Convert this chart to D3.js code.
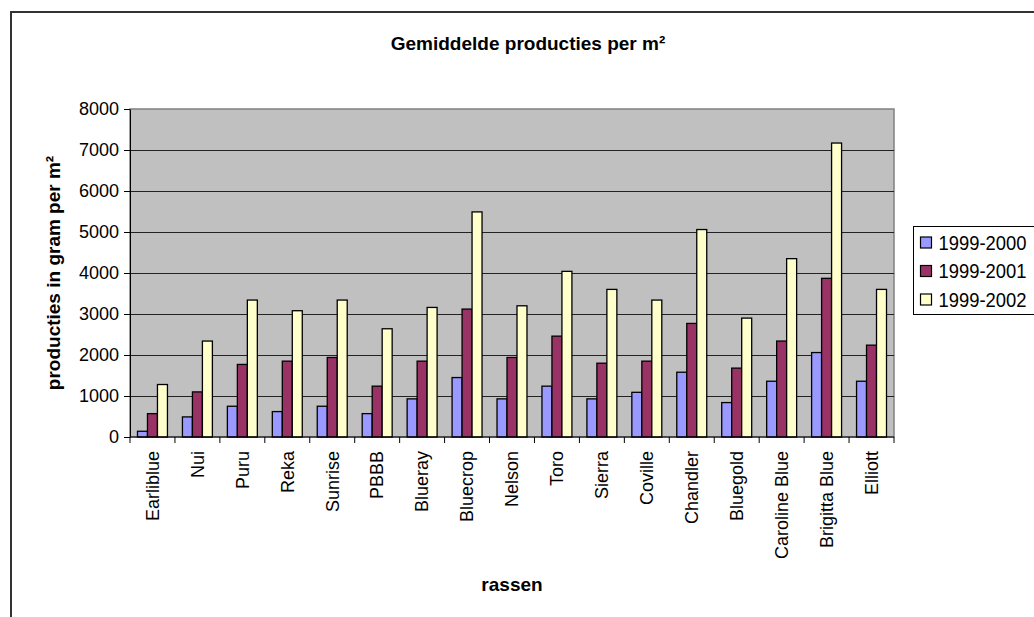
<!DOCTYPE html>
<html>
<head>
<meta charset="utf-8">
<script src="https://cdn.jsdelivr.net/npm/d3@7"></script>
<style>
	body { margin: 0; background: #fff; }
	text { font-family: "Liberation Sans", Arial, sans-serif; }
</style>
</head>
<body>
<svg id="chart" width="1034" height="617"></svg>
<script>
/* --------------------------------------------
 * Gemiddelde producties per m2
 * ============================================
 */

// data
var rassen = ["Earliblue", "Nui", "Puru", "Reka", "Sunrise", "PBBB", "Blueray", "Bluecrop",
	"Nelson", "Toro", "Sierra", "Coville", "Chandler", "Bluegold", "Caroline Blue",
	"Brigitta Blue", "Elliott"];
var seizoenen = ["1999-2000", "1999-2001", "1999-2002"];
var prod2000 = [140, 490, 750, 620, 750, 570, 930, 1450, 930, 1240, 930, 1090, 1580, 840, 1360, 2060, 1360];
var prod2001 = [570, 1100, 1770, 1850, 1940, 1240, 1850, 3120, 1940, 2460, 1800, 1850, 2770, 1680, 2340, 3870, 2240];
var prod2002 = [1280, 2340, 3340, 3080, 3340, 2640, 3160, 5490, 3200, 4040, 3600, 3340, 5060, 2900, 4350, 7170, 3600];
var yTicks = [0, 1000, 2000, 3000, 4000, 5000, 6000, 7000, 8000];

// styles
var KLEUREN = ["#9999ff", "#993366", "#ffffcc"];
var PLOT = { left: 130, right: 894, top: 109, bottom: 437 };

var series = [prod2000, prod2001, prod2002];
var svg = d3.select("#chart");

// outer chart frame (runs off the picture on the right and bottom)
svg.append("rect")
	.attr("x", 11).attr("y", 12)
	.attr("width", 1040).attr("height", 620)
	.attr("fill", "#fff")
	.attr("stroke", "#333")
	.attr("stroke-width", 2);

// scales
var x = d3.scaleBand().domain(rassen).range([PLOT.left, PLOT.right]);
var xSub = d3.scaleBand().domain(seizoenen)
	.range([0, x.bandwidth()])
	.paddingOuter(0.75);
var y = d3.scaleLinear().domain([0, 8000]).range([PLOT.bottom, PLOT.top]);

// plot area
svg.append("rect")
	.attr("x", PLOT.left).attr("y", PLOT.top)
	.attr("width", PLOT.right - PLOT.left)
	.attr("height", PLOT.bottom - PLOT.top)
	.attr("fill", "#c0c0c0")
	.attr("stroke", "#808080")
	.attr("stroke-width", 1.5);

// gridlines
svg.append("g").selectAll("line")
	.data(yTicks.filter(function(d) { return d > 0 && d < 8000; }))
	.enter().append("line")
	.attr("x1", PLOT.left).attr("x2", PLOT.right)
	.attr("y1", function(d) { return Math.round(y(d)) + 0.5; })
	.attr("y2", function(d) { return Math.round(y(d)) + 0.5; })
	.attr("stroke", "#222")
	.attr("stroke-width", 1);

// bars
var groups = svg.append("g").selectAll("g")
	.data(rassen)
	.enter().append("g")
	.attr("transform", function(d) { return "translate(" + x(d) + ",0)"; });

groups.selectAll("rect")
	.data(function(d, i) {
		return seizoenen.map(function(s, j) { return { seizoen: s, value: series[j][i], idx: j }; });
	})
	.enter().append("rect")
	.attr("x", function(d) { return xSub(d.seizoen); })
	.attr("y", function(d) { return y(d.value); })
	.attr("width", xSub.bandwidth())
	.attr("height", function(d) { return y(0) - y(d.value); })
	.attr("fill", function(d) { return KLEUREN[d.idx]; })
	.attr("stroke", "#000")
	.attr("stroke-width", 1.3);

// y axis
var yAxis = svg.append("g")
	.attr("transform", "translate(" + PLOT.left + ",0)")
	.call(d3.axisLeft(y).tickValues(yTicks).tickFormat(d3.format("d"))
		.tickSize(6).tickPadding(5).tickSizeOuter(0));
yAxis.select(".domain").attr("stroke", "#000");
yAxis.selectAll("text")
	.attr("font-size", "18px")
	.attr("fill", "#000")
	.attr("font-family", "Liberation Sans, Arial, sans-serif");

// x axis: ticks on category boundaries, labels rotated
var xg = svg.append("g");
xg.append("line")
	.attr("x1", PLOT.left).attr("x2", PLOT.right)
	.attr("y1", PLOT.bottom).attr("y2", PLOT.bottom)
	.attr("stroke", "#000");
xg.selectAll("line.tick")
	.data(rassen.concat(["__end"]))
	.enter().append("line")
	.attr("class", "tick")
	.attr("x1", function(d, i) { return PLOT.left + i * x.step(); })
	.attr("x2", function(d, i) { return PLOT.left + i * x.step(); })
	.attr("y1", PLOT.bottom).attr("y2", PLOT.bottom + 6)
	.attr("stroke", "#000");
xg.selectAll("text")
	.data(rassen)
	.enter().append("text")
	.attr("transform", function(d) {
		return "translate(" + (x(d) + x.bandwidth() / 2) + "," + (PLOT.bottom + 14) + ") rotate(-90)";
	})
	.attr("text-anchor", "end")
	.attr("dy", "0.35em")
	.attr("font-size", "18px")
	.text(function(d) { return d; });

// titles
svg.append("text")
	.attr("x", 528).attr("y", 50)
	.attr("text-anchor", "middle")
	.attr("font-size", "19px")
	.attr("font-weight", "bold")
	.text("Gemiddelde producties per m²");

svg.append("text")
	.attr("transform", "translate(60," + ((PLOT.top + PLOT.bottom) / 2) + ") rotate(-90)")
	.attr("text-anchor", "middle")
	.attr("font-size", "19px")
	.attr("font-weight", "bold")
	.text("producties in gram per m²");

svg.append("text")
	.attr("x", (PLOT.left + PLOT.right) / 2).attr("y", 591)
	.attr("text-anchor", "middle")
	.attr("font-size", "19px")
	.attr("font-weight", "bold")
	.text("rassen");

// legend
var legend = svg.append("g").attr("transform", "translate(913.5,226.5)");
legend.append("rect")
	.attr("width", 140).attr("height", 88)
	.attr("fill", "#fff")
	.attr("stroke", "#000");

var items = legend.selectAll("g.item")
	.data(seizoenen)
	.enter().append("g")
	.attr("class", "item")
	.attr("transform", function(d, i) { return "translate(7," + (16 + i * 28.5) + ")"; });
items.append("rect")
	.attr("x", 0).attr("y", -5.5)
	.attr("width", 11).attr("height", 11)
	.attr("fill", function(d, i) { return KLEUREN[i]; })
	.attr("stroke", "#000")
	.attr("stroke-width", 1.2);
items.append("text")
	.attr("x", 18).attr("dy", "0.36em")
	.attr("font-size", "19.5px")
	.attr("textLength", 88)
	.attr("lengthAdjust", "spacingAndGlyphs")
	.text(function(d) { return d; });
</script>
</body>
</html>
